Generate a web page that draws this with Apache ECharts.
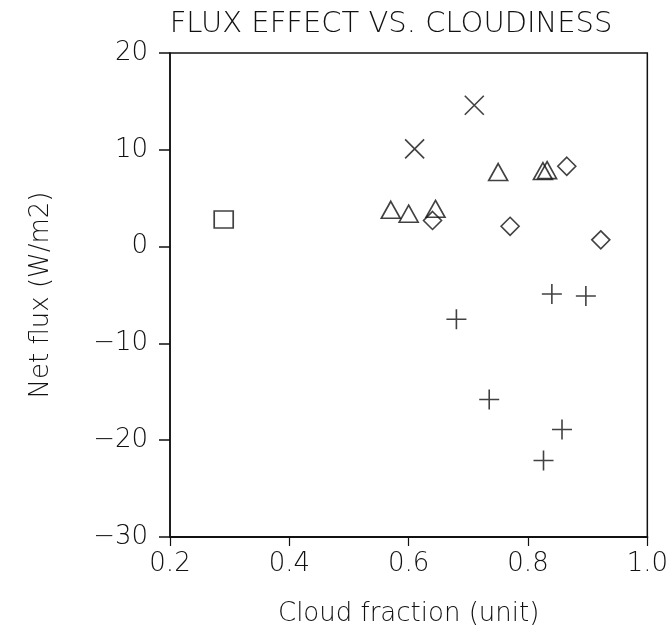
<!DOCTYPE html>
<html>
<head>
<meta charset="utf-8">
<script src="https://cdn.jsdelivr.net/npm/echarts@6/dist/echarts.min.js"></script>
<style>html,body{margin:0;padding:0;background:#fff}#c{width:671px;height:632px}</style>
</head>
<body>
<div id="c"></div>
<script>
// Data
var titleText = 'FLUX EFFECT VS. CLOUDINESS';
var xName = 'Cloud fraction (unit)';
var yName = 'Net flux (W/m2)';
var squarePts = [[0.29, 2.8]];
var crossPts = [[0.61, 10.1], [0.71, 14.6]];
var trianglePts = [[0.57, 3.8], [0.60, 3.4], [0.645, 3.9], [0.75, 7.7], [0.825, 7.8], [0.832, 7.9]];
var diamondPts = [[0.64, 2.7], [0.77, 2.1], [0.865, 8.3], [0.922, 0.7]];
var plusPts = [[0.68, -7.5], [0.84, -4.9], [0.897, -5.1], [0.735, -15.8], [0.857, -18.9], [0.826, -22.1]];
var xTicks = [0.2, 0.4, 0.6, 0.8, 1.0];
var yTicks = [-30, -20, -10, 0, 10, 20];

var ink = '#111';
var font = 'DejaVu Sans';
function hollow(data, symbol, size) {
  return {
    type: 'scatter', data: data, symbol: symbol, symbolSize: size,
    itemStyle: { color: 'rgba(0,0,0,0)', borderColor: ink, borderWidth: 1.6 },
    emphasis: { disabled: true }, silent: true
  };
}
var chart = echarts.init(document.getElementById('c'), null, { renderer: 'canvas' });
chart.setOption({
  animation: false,
  backgroundColor: '#fff',
  title: {
    text: titleText, left: 386, top: 5, textAlign: 'center',
    textStyle: { fontFamily: font, fontSize: 29, fontWeight: 200, color: '#111' }
  },
  grid: { left: 170, right: 20, top: 53, bottom: 94, show: true, borderColor: ink, borderWidth: 1.5, backgroundColor: 'transparent' },
  xAxis: {
    type: 'value', min: 0.2, max: 1.0, interval: 0.2,
    name: xName, nameLocation: 'middle', nameGap: 64,
    nameTextStyle: { fontFamily: font, fontSize: 26, fontWeight: 200, color: '#111' },
    axisLine: { show: true, onZero: false, lineStyle: { color: ink, width: 2 } },
    axisTick: { show: true, inside: false, length: 9, lineStyle: { color: ink, width: 1.2 } },
    axisLabel: { margin: 14, fontFamily: font, fontSize: 26, fontWeight: 200, color: '#111',
      formatter: function (v) { return v.toFixed(1); } },
    splitLine: { show: false }
  },
  yAxis: {
    type: 'value', min: -30, max: 20, interval: 10,
    name: yName, nameLocation: 'middle', nameGap: 116, nameRotate: 90,
    nameTextStyle: { fontFamily: font, fontSize: 26, fontWeight: 200, color: '#111' },
    axisLine: { show: true, onZero: false, lineStyle: { color: ink, width: 1.5 } },
    axisTick: { show: true, inside: false, length: 11, lineStyle: { color: ink, width: 1.5 } },
    axisLabel: { margin: 22, fontFamily: font, fontSize: 26, fontWeight: 200, color: '#111',
      formatter: function (v) { return String(v).replace('-', '\u2212'); } },
    splitLine: { show: false }
  },
  series: [
    hollow(squarePts, 'rect', [19, 17]),
    hollow(crossPts, 'path://M0,0L20,20M20,0L0,20', 19),
    hollow(trianglePts, 'triangle', [19, 17]),
    hollow(diamondPts, 'diamond', 18),
    hollow(plusPts, 'path://M0,10L20,10M10,0L10,20', 20)
  ]
});
</script>
</body>
</html>
